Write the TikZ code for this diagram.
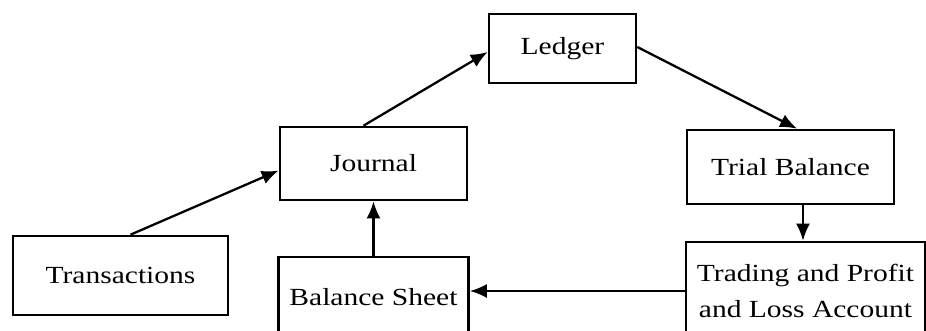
\documentclass[tikz,border=0pt]{standalone}
\usepackage{fontspec}
\setmainfont{Liberation Serif}[FakeStretch=1.2]
\usetikzlibrary{arrows.meta}
\begin{document}
\begin{tikzpicture}[
    stage/.style={draw, line width=1.5pt, fill=white, inner sep=0pt, align=center,
        font=\fontsize{14}{21}\selectfont},
    flow/.style={-{Latex[length=0.34cm, width=0.28cm]}, line width=1.3pt}
]
    \clip (0,0) rectangle (18.52,6.6);
    \fill[white] (0,0) rectangle (18.52,6.6);

    \node[stage, minimum width=4.3cm, minimum height=1.58cm] (trans) at (2.41,1.09) {Transactions};
    \node[stage, minimum width=3.74cm, minimum height=1.46cm] (journal) at (7.47,3.33) {Journal};
    \node[stage, minimum width=2.94cm, minimum height=1.38cm] (ledger) at (11.25,5.63) {Ledger};
    \node[stage, minimum width=4.14cm, minimum height=1.48cm] (trial) at (15.81,3.26) {Trial Balance};
    \node[stage, minimum width=4.78cm, minimum height=1.96cm] (trading) at (16.11,0.78) {Trading and Profit\\and Loss Account};
    \node[stage, minimum width=3.8cm, minimum height=1.6cm] (balance) at (7.47,0.66) {Balance Sheet};

    \draw[flow] ([xshift=0.2cm]trans.north) -- ([yshift=-0.14cm]journal.west);
    \draw[flow] ([xshift=-0.2cm]journal.north) -- ([yshift=-0.07cm]ledger.west);
    \draw[flow] ([yshift=0.03cm]ledger.east) -- ([xshift=0.13cm]trial.north);
    \draw[flow] ([xshift=0.25cm]trial.south) -- ([xshift=0.25cm]trial.south |- trading.north);
    \draw[flow] (trading.west) -- (trading.west -| balance.east);
    \draw[flow] (balance.north) -- (journal.south);
\end{tikzpicture}
\end{document}
